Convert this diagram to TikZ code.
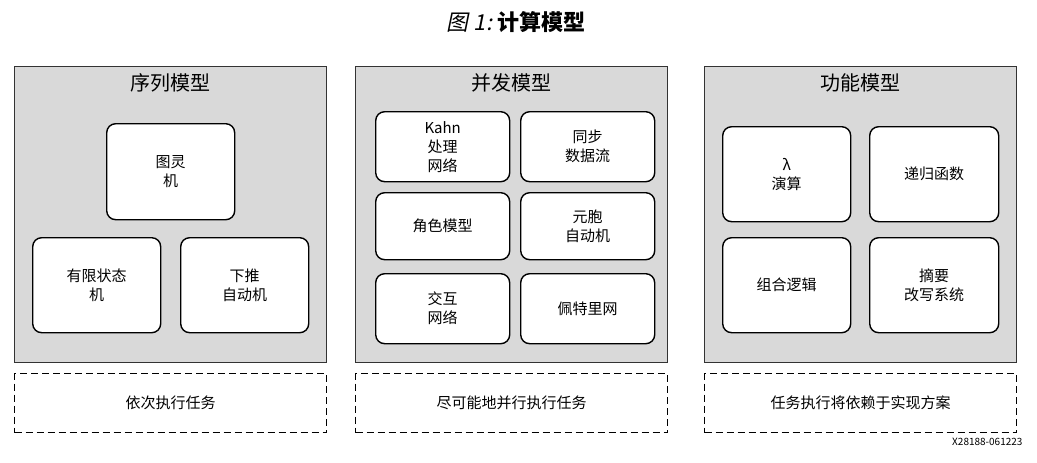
\documentclass[tikz,border=0pt]{standalone}
\usepackage{fontspec}
\setmainfont{Noto Sans CJK SC}
\newfontfamily\slantcjk[FakeSlant=0.2]{Noto Sans CJK SC}
\usetikzlibrary{positioning}
\definecolor{panelgray}{HTML}{D9D9D9}
\definecolor{edgegray}{HTML}{333333}
\begin{document}
\begin{tikzpicture}[x=1pt, y=-1pt]
    % Styles
    \tikzset{
        panel/.style = {draw=edgegray, line width=1.4pt, fill=panelgray, anchor=north west},
        task/.style = {draw, line width=1.4pt, dash pattern=on 7pt off 4pt, anchor=north west, font=\fontsize{15}{18}\selectfont},
        model/.style = {draw, fill=white, line width=1.4pt, rounded corners=9pt, align=center, anchor=north west, font=\fontsize{15}{19}\selectfont},
        heading/.style = {font=\fontsize{20}{24}\selectfont}
    }
    \useasboundingbox (0,0) rectangle (1037,463);

    % --- TITLE ---
    \node (title) at (516,22) {\fontsize{22}{26}\selectfont{\slantcjk 图 1:}\ \textbf{计算模型}};

    % --- PANELS ---
    \node [panel, minimum width=312pt, minimum height=296pt] (seq) at (14,66) {};
    \node [panel, minimum width=312pt, minimum height=296pt] (conc) at (355,66) {};
    \node [panel, minimum width=312pt, minimum height=296pt] (func) at (704,66) {};
    \node [heading, below=4pt of seq.north] {序列模型};
    \node [heading, below=4pt of conc.north] {并发模型};
    \node [heading, below=4pt of func.north] {功能模型};

    % --- SEQUENTIAL ---
    \node [model, minimum width=128pt, minimum height=96pt] (turing) at (106,123) {图灵\\机};
    \node [model, minimum width=128pt, minimum height=95pt] (fsm) at (32,237) {有限状态\\机};
    \node [model, minimum width=128pt, minimum height=95pt] (pda) at (180,237) {下推\\自动机};

    % --- CONCURRENT ---
    \node [model, minimum width=134pt, minimum height=70pt] (kahn) at (375,111) {Kahn\\处理\\网络};
    \node [model, minimum width=134pt, minimum height=70pt] (sdf) at (520,111) {同步\\数据流};
    \node [model, minimum width=134pt, minimum height=67pt] (actor) at (375,192) {角色模型};
    \node [model, minimum width=134pt, minimum height=67pt] (cell) at (520,192) {元胞\\自动机};
    \node [model, minimum width=134pt, minimum height=70pt] (inter) at (375,273) {交互\\网络};
    \node [model, minimum width=134pt, minimum height=70pt] (petri) at (520,273) {佩特里网};

    % --- FUNCTIONAL ---
    \node [model, minimum width=128pt, minimum height=95pt] (lambda) at (722,126) {λ\\演算};
    \node [model, minimum width=129pt, minimum height=95pt] (recur) at (869,126) {递归函数};
    \node [model, minimum width=128pt, minimum height=95pt] (comb) at (722,237) {组合逻辑};
    \node [model, minimum width=129pt, minimum height=95pt] (rewrite) at (869,237) {摘要\\改写系统};

    % --- TASKS ---
    \node [task, minimum width=312pt, minimum height=59pt] (seqtask) at (14,373) {依次执行任务};
    \node [task, minimum width=312pt, minimum height=59pt] (conctask) at (355,373) {尽可能地并行执行任务};
    \node [task, minimum width=312pt, minimum height=59pt] (functask) at (704,373) {任务执行将依赖于实现方案};

    \node [font=\fontsize{10}{12}\selectfont, anchor=east] (code) at (1026,442) {X28188-061223};
\end{tikzpicture}
\end{document}
